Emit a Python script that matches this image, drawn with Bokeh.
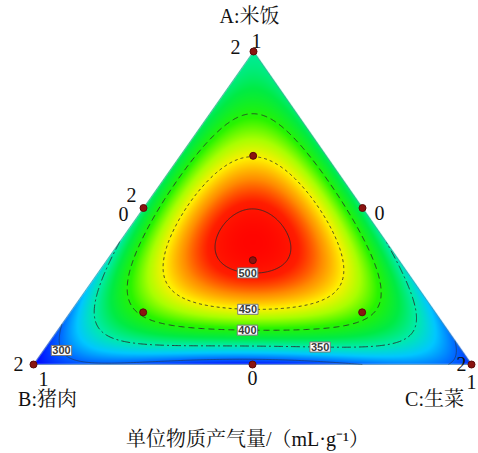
import numpy as np
import contourpy
from bokeh.plotting import figure
from bokeh.models import Label
from bokeh.embed import file_html
from bokeh.resources import INLINE

# Simplex-centroid mixture design with axial check blends:
# proportions of A (rice), B (pork), C (lettuce) and the measured gas yield (mL/g)
frac_a = [1.0, 0.0, 0.0, 0.5, 0.5, 0.0, 1 / 3, 2 / 3, 1 / 6, 1 / 6]
frac_b = [0.0, 1.0, 0.0, 0.5, 0.0, 0.5, 1 / 3, 1 / 6, 2 / 3, 1 / 6]
frac_c = [0.0, 0.0, 1.0, 0.0, 0.5, 0.5, 1 / 3, 1 / 6, 1 / 6, 2 / 3]
gas_yield = [355, 270, 285, 362, 360, 278, 508, 449, 405, 410]

contour_levels = [300, 350, 400, 450, 500]

W, H = 478, 453
# triangle corners on the canvas (x, y measured upward)
VA = (253.0, H - 51.0)
VB = (33.0, H - 364.0)
VC = (471.0, H - 364.0)


def to_xy(a, b, c):
    return (a * VA[0] + b * VB[0] + c * VC[0], a * VA[1] + b * VB[1] + c * VC[1])


def basis(a, b, c):
    # special cubic Scheffe terms plus the quartic binary terms, so that the
    # ten blends are fitted exactly
    a, b, c = np.asarray(a, float), np.asarray(b, float), np.asarray(c, float)
    return np.stack([a, b, c, a * b, a * c, b * c, a * b * c,
                     a * b * (a - b) ** 2, a * c * (a - c) ** 2, b * c * (b - c) ** 2], axis=-1)


coef, *_ = np.linalg.lstsq(basis(frac_a, frac_b, frac_c), np.asarray(gas_yield, float), rcond=None)


def model(a, b, c):
    return basis(a, b, c) @ coef


# ---- colour surface -------------------------------------------------------
cmap_vals = [270, 300, 325, 350, 375, 405, 430, 452, 475, 495, 515]
cmap_rgb = [(0, 0, 255), (0, 100, 255), (0, 200, 255), (0, 235, 170), (0, 235, 70),
            (40, 245, 0), (170, 255, 0), (255, 240, 0), (255, 140, 0), (255, 30, 0),
            (255, 0, 0)]

x0, x1 = 28.0, 476.0
y0, y1 = H - 369.0, H - 46.0
res = 2
nx, ny = int((x1 - x0) * res), int((y1 - y0) * res)
gx = x0 + (np.arange(nx) + 0.5) / res
gy = y0 + (np.arange(ny) + 0.5) / res
X, Y = np.meshgrid(gx, gy)

det = (VB[1] - VC[1]) * (VA[0] - VC[0]) + (VC[0] - VB[0]) * (VA[1] - VC[1])
la = ((VB[1] - VC[1]) * (X - VC[0]) + (VC[0] - VB[0]) * (Y - VC[1])) / det
lb = ((VC[1] - VA[1]) * (X - VC[0]) + (VA[0] - VC[0]) * (Y - VC[1])) / det
lc = 1.0 - la - lb


def dist(p, q):
    return np.hypot(p[0] - q[0], p[1] - q[1])


area2 = abs(det)
h_a, h_b, h_c = area2 / dist(VB, VC), area2 / dist(VC, VA), area2 / dist(VA, VB)
edge_d = np.minimum(np.minimum(la * h_a, lb * h_b), lc * h_c)
alpha = np.clip(edge_d + 0.5, 0, 1)

ca, cb, cc = np.clip(la, 0, 1), np.clip(lb, 0, 1), np.clip(lc, 0, 1)
tot = ca + cb + cc
Z = model(ca / tot, cb / tot, cc / tot)

rgba = np.zeros((ny, nx, 4), dtype=np.uint8)
for k in range(3):
    rgba[..., k] = np.interp(Z, cmap_vals, [c[k] for c in cmap_rgb]).astype(np.uint8)
rgba[..., 3] = (alpha * 255).astype(np.uint8)
img = rgba.view(np.uint32).reshape(ny, nx)

p = figure(width=W, height=H, x_range=(0, W), y_range=(0, H),
           x_axis_type=None, y_axis_type=None, toolbar_location=None,
           output_backend="svg", min_border=0, outline_line_color=None)
p.background_fill_color = "white"
p.border_fill_color = "white"

p.image_rgba(image=[img], x=x0, y=y0, dw=x1 - x0, dh=y1 - y0)

# ---- contour lines ---------------------------------------------------------
s_lin = np.linspace(0, 1, 301)
t_lin = np.linspace(0, 1, 301)
S, T = np.meshgrid(s_lin, t_lin)
Zc = model(T, (1 - T) * (1 - S), (1 - T) * S)
gen = contourpy.contour_generator(s_lin, t_lin, Zc, line_type=contourpy.LineType.Separate)

level_dash = {300: "solid", 350: "9 3 2 3", 400: "6 4", 450: "3 3", 500: "solid"}
level_alpha = {300: 0.5, 350: 0.85, 400: 0.85, 450: 0.85, 500: 0.85}
label_at = {300: (50, 356), 350: (319, 348), 400: (247, 332), 450: (247, 311), 500: (247, 272)}

for level in contour_levels:
    xs_list, ys_list = [], []
    for seg in gen.lines(level):
        s, t = seg[:, 0], seg[:, 1]
        lx, ly = to_xy(t, (1 - t) * (1 - s), (1 - t) * s)
        xs_list.append(lx)
        ys_list.append(ly)
    if not xs_list:
        continue
    p.multi_line(xs_list, ys_list, line_color="#2a2a2a", line_width=1,
                 line_dash=level_dash[level], line_alpha=level_alpha[level])
    # put the value tag on the line, near its usual spot
    tx, ty = label_at[level][0], H - label_at[level][1]
    allx = np.concatenate(xs_list)
    ally = np.concatenate(ys_list)
    i = int(np.argmin((allx - tx) ** 2 + (ally - ty) ** 2))
    p.add_layout(Label(x=allx[i], y=ally[i], text=f"{level}", text_font="Liberation Sans",
                       text_font_size="11px", text_font_style="bold", text_color="#3a3a3a",
                       text_align="center", text_baseline="middle",
                       background_fill_color="white", border_line_color="#777777",
                       border_line_width=1, padding=1))

# triangle rim
rim_x = [VA[0], VB[0], VC[0], VA[0]]
rim_y = [VA[1], VB[1], VC[1], VA[1]]
p.line(rim_x, rim_y, line_color="#1d6a86", line_alpha=0.45, line_width=1)

# design points
px, py = to_xy(np.array(frac_a), np.array(frac_b), np.array(frac_c))
p.scatter(px, py, size=7, fill_color="#8a1410", line_color="#5a0a08", line_width=1)

# ---- text -----------------------------------------------------------------
serif = "'Liberation Serif', 'Noto Serif CJK SC', 'Noto Sans CJK SC', serif"
texts = [
    ("A:米饭", 249, 15), ("2", 235, 46), ("1", 256, 40),
    ("2", 131, 194), ("0", 123, 213), ("0", 379, 212),
    ("2", 18, 363), ("1", 43, 378), ("2", 461, 363), ("1", 471, 381),
    ("0", 252, 377), ("B:猪肉", 47, 398), ("C:生菜", 434, 398),
    ("单位物质产气量/（mL·g⁻¹）", 247, 438),
]
for txt, tx, ty in texts:
    p.add_layout(Label(x=tx, y=H - ty, text=txt, text_font=serif, text_font_size="20px",
                       text_color="#111111", text_align="center", text_baseline="middle"))

open("out.html", "w").write(file_html(p, INLINE))
